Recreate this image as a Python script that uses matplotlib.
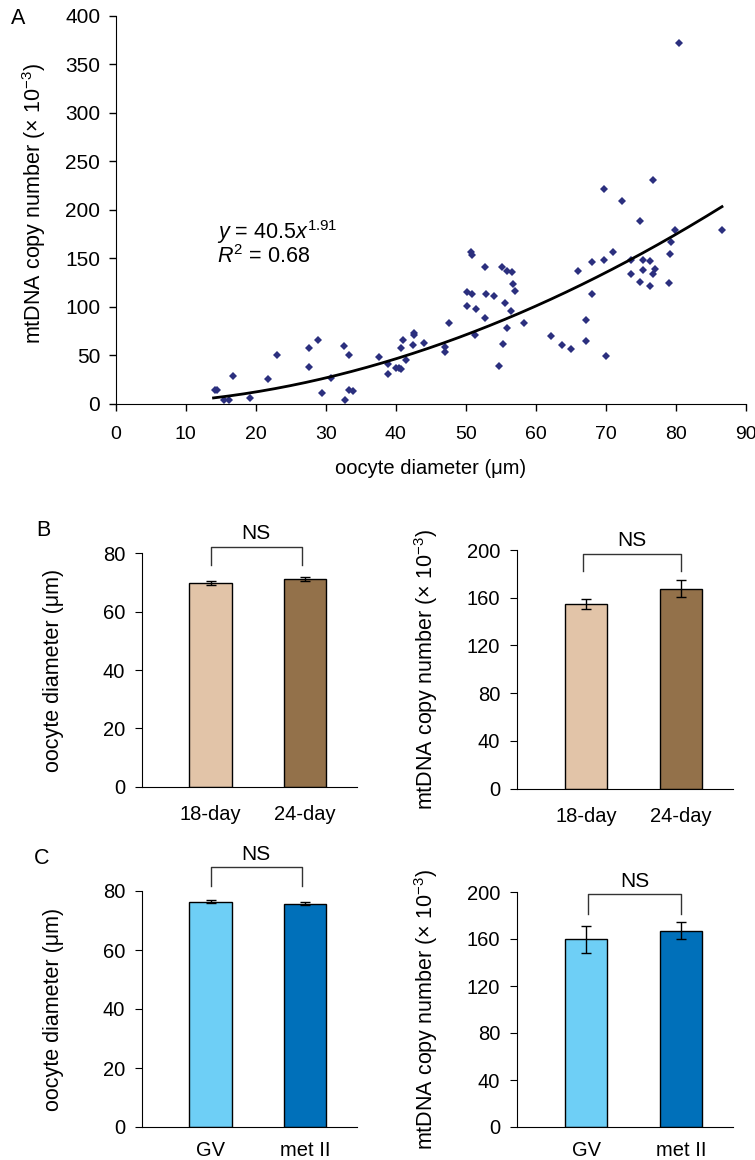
import numpy as np
import matplotlib
matplotlib.use('Agg')
import matplotlib.pyplot as plt

plt.rcParams['font.family'] = ['Liberation Sans', 'DejaVu Sans']
plt.rcParams['mathtext.fontset'] = 'custom'
plt.rcParams['mathtext.rm'] = 'Liberation Sans'
plt.rcParams['mathtext.it'] = 'Liberation Sans:italic'
plt.rcParams['font.size'] = 14

# panel A: oocyte diameter (um) vs mtDNA copy number (x 10^-3)
diam = [14.2, 14.5, 15.5, 16.2, 16.8, 19.2, 21.8, 23.1, 27.6, 27.6, 28.9, 29.5,
        30.7, 32.6, 33.3, 32.8, 33.4, 33.9, 37.6, 38.9, 38.9, 40.1, 40.5, 40.7,
        40.7, 41.1, 41.5, 42.5, 42.6, 42.6, 44.0, 47.0, 47.1, 47.6, 50.2, 50.9,
        50.2, 50.8, 50.9, 51.5, 51.3, 52.8, 52.9, 52.8, 54.0, 54.8, 55.2, 55.9,
        56.6, 55.6, 56.5, 56.7, 57.1, 55.3, 55.9, 58.4, 62.2, 63.7, 65.1, 66.1,
        67.2, 67.2, 68.0, 68.0, 69.8, 69.8, 70.1, 71.1, 72.3, 73.6, 73.6, 74.9,
        74.9, 75.3, 75.3, 76.3, 76.3, 76.7, 77.1, 76.7, 79.0, 79.2, 79.3, 79.9,
        80.5, 86.6]
copies = [14, 14.4, 3.7, 4.4, 28.7, 5.7, 26, 50.6, 57.5, 38, 65.7, 11.3,
          26.7, 59.9, 50.6, 4.4, 14, 13, 48.8, 41.2, 30.9, 37.1, 37.4, 35.8,
          58, 66, 45.4, 61, 73.5, 71.5, 63.2, 59.1, 54, 83.8, 115.1, 113.1,
          101.4, 156.7, 153, 98.2, 71, 141, 113.1, 88.7, 111.3, 39.5, 141, 137,
          136, 104.4, 96.2, 124, 116.8, 62.2, 78.4, 83.8, 70, 60.5, 56.4, 137.4,
          86.2, 65.2, 146, 113.3, 148.6, 221.7, 49.8, 156.2, 208.8, 148.3, 134, 188.2,
          125.4, 148.6, 137.8, 147.8, 121.6, 134, 138.9, 230.4, 124.2, 154.2, 166.8, 179.2,
          371.5, 179.2]
fit_a = 40.5
fit_b = 1.91
fit_r2 = 0.68

# panels B and C
age_labels = ['18-day', '24-day']
age_diam = [69.7, 71.2]
age_diam_err = [0.7, 0.7]
age_copies = [154.8, 167.6]
age_copies_err = [4, 7]

stage_labels = ['GV', 'met II']
stage_diam = [76.4, 75.7]
stage_diam_err = [0.4, 0.6]
stage_copies = [159.7, 167.1]
stage_copies_err = [11.7, 7]

tan_colors = ['#e2c4a8', '#93714a']
blue_colors = ['#6ecff6', '#0070ba']

W, H = 755, 1160
fig = plt.figure(figsize=(W / 100, H / 100), dpi=100)


def box(l, t, r, b):
    return [l / W, 1 - b / H, (r - l) / W, (b - t) / H]


# ---- A ----
ax = fig.add_axes(box(115.5, 15.7, 745.8, 404))
ax.plot(diam, copies, 'D', color='#2b2f7e', ms=4, mew=0)
xf = np.linspace(14, 86.6, 200)
ax.plot(xf, fit_a * 1e-3 * xf ** fit_b, color='black', lw=2)
ax.set_xlim(0, 90)
ax.set_ylim(0, 400)
ax.set_xticks(range(0, 91, 10))
ax.set_yticks(range(0, 401, 50))
ax.spines[['top', 'right']].set_visible(False)
ax.tick_params(direction='out', length=5, width=1)
ax.tick_params(axis='x', pad=11, labelsize=14)
ax.tick_params(axis='y', pad=6, labelsize=15)
ax.set_xlabel('oocyte diameter (\u03bcm)', fontsize=14.5)
ax.xaxis.set_label_coords(0.5, -0.142)
ax.set_ylabel('mtDNA copy number (\u00d7 10$^{\u22123}$)', fontsize=15.5)
ax.yaxis.set_label_coords(-0.107, 0.515)
ax.text(14.5, 177.5, r'$y$ = 40.5$x^{1.91}$', fontsize=15.5, va='center')
ax.text(14.5, 151.5, r'$R^2$ = 0.68', fontsize=15.5, va='center')
fig.text(18 / W, 1 - 18 / H, 'A', fontsize=15.5, va='center', ha='center')


def bar_panel(rect, labels, vals, errs, colors, ymax, step, ylabel,
              br_x, br_top, br_low, ns_y, lab_x, xpad):
    ax = fig.add_axes(rect)
    x = np.arange(len(vals))
    ax.bar(x, vals, width=0.45, color=colors, edgecolor='black', linewidth=1,
           yerr=errs, capsize=3.5, error_kw=dict(elinewidth=1, capthick=1))
    ax.set_xlim(-0.73, 1.55)
    ax.set_ylim(0, ymax)
    ax.set_yticks(np.arange(0, ymax + 1, step))
    ax.set_xticks(x)
    ax.set_xticklabels(labels)
    ax.spines[['top', 'right']].set_visible(False)
    ax.tick_params(axis='y', direction='out', length=5, labelsize=14.5, pad=7)
    ax.tick_params(axis='x', length=0, labelsize=14.5, pad=xpad)
    ax.set_ylabel(ylabel, fontsize=15.5)
    ax.yaxis.set_label_coords(lab_x, 0.5)
    ax.plot([br_x[0], br_x[0], br_x[1], br_x[1]], [br_low, br_top, br_top, br_low],
            color='#333333', lw=1, clip_on=False)
    ax.text(sum(br_x) / 2, ns_y, 'NS', ha='center', va='center', fontsize=15,
            clip_on=False)
    return ax


ylab_d = 'oocyte diameter (\u03bcm)'
ylab_c = 'mtDNA copy number (\u00d7 10$^{\u22123}$)'

bar_panel(box(141.7, 553.3, 356.7, 786.7), age_labels, age_diam, age_diam_err,
          tan_colors, 80, 20, ylab_d, (0, 0.97), 82.3, 76, 86.8, -0.361, 13)
bar_panel(box(516.7, 550, 733.3, 788.7), age_labels, age_copies, age_copies_err,
          tan_colors, 200, 40, ylab_c, (-0.03, 1.0), 197, 182, 208, -0.356, 13)
bar_panel(box(141.7, 891, 356.7, 1127), stage_labels, stage_diam, stage_diam_err,
          blue_colors, 80, 20, ylab_d, (0, 0.97), 88.2, 81.7, 92.4, -0.361, 10)
bar_panel(box(516.7, 892, 733.3, 1127), stage_labels, stage_copies, stage_copies_err,
          blue_colors, 200, 40, ylab_c, (0.02, 1.0), 198, 181.5, 208.8, -0.356, 10)

fig.text(43 / W, 1 - 530 / H, 'B', fontsize=15.5, va='center', ha='center')
fig.text(42 / W, 1 - 858 / H, 'C', fontsize=15.5, va='center', ha='center')

fig.savefig('out.png', dpi=100)
